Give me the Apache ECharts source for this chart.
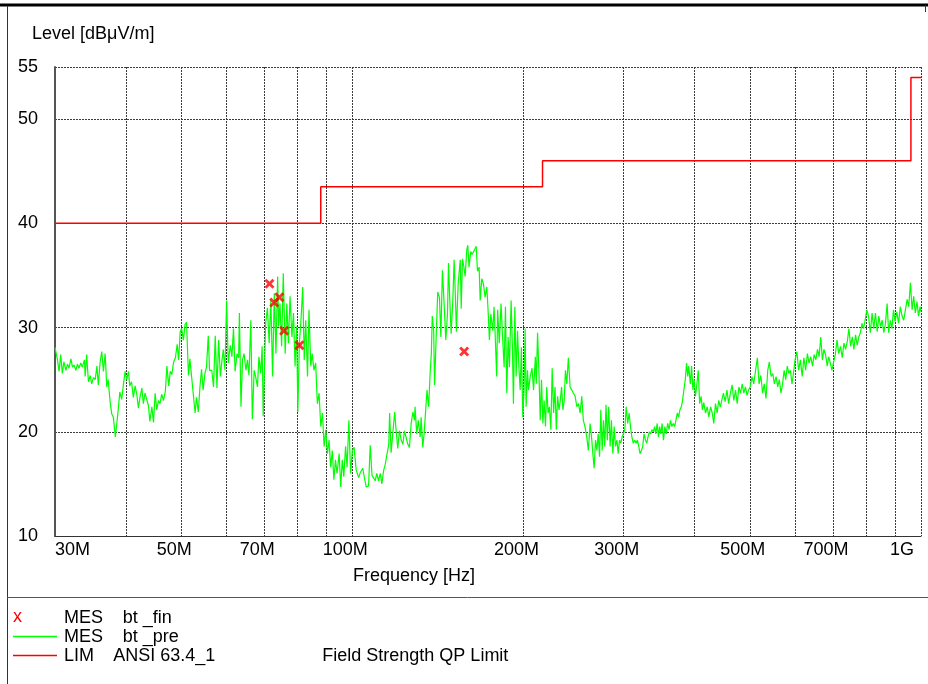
<!DOCTYPE html>
<html><head><meta charset="utf-8">
<script src="https://cdn.jsdelivr.net/npm/echarts@6/dist/echarts.min.js"></script>
<style>html,body{margin:0;padding:0;background:#fff}#c{width:928px;height:684px}</style>
</head><body><div id="c"></div>
<script>
// ---- data (frequency in MHz, level in dBuV/m) ----
const xTicks = [30,40,50,60,70,80,90,100,200,300,400,500,600,700,800,900,1000];
const xLabelValues = [30,50,70,100,200,300,500,700,1000];
const yTicks = [10,20,30,40,50,55];
const limitFreq = [30,88,88,216,216,960,960,1000];
const limitLevel = [40,40,43.5,43.5,46,46,54,54];
const finFreq = [71.5,72.9,74.4,75.85,80.7,157.25];
const finLevel = [34.2,32.4,32.9,29.7,28.3,27.7];
const preScan = [
[30.0,28.1],[30.3,26.9],[30.5,25.8],[30.7,27.4],[30.9,25.6],[31.1,26.7],[31.35,25.9],[31.55,26.5],[31.75,26.1],[32.0,27.0],[32.2,26.2],[32.4,26.4],[32.65,25.9],[32.85,26.5],[33.05,26.1],[33.3,26.6],[33.5,26.2],[33.8,26.9],[33.9,25.3],[34.1,27.4],[34.35,24.8],[34.6,25.4],[34.8,24.6],[35.05,25.2],[35.3,25.0],[35.55,26.3],[35.75,24.5],[36.0,26.6],[36.25,27.7],[36.5,25.8],[36.75,27.5],[37.0,24.3],[37.2,25.0],[37.5,22.9],[37.75,21.7],[38.0,21.4],[38.3,19.5],[38.5,20.6],[38.75,22.1],[39.0,23.8],[39.3,23.1],[39.55,24.4],[39.85,25.8],[40.1,25.0],[40.4,25.8],[40.6,24.4],[40.9,24.8],[41.2,23.3],[41.5,24.4],[41.8,23.5],[42.05,22.3],[42.35,23.4],[42.65,24.2],[42.9,22.7],[43.2,23.7],[43.5,23.1],[43.8,22.5],[44.05,21.0],[44.4,22.4],[44.7,20.9],[45.0,23.7],[45.3,22.1],[45.6,23.0],[45.9,22.7],[46.2,23.6],[46.55,23.0],[46.9,23.9],[47.2,26.3],[47.55,24.4],[47.85,25.8],[48.15,25.5],[48.5,26.7],[48.85,27.1],[49.2,28.4],[49.5,26.9],[49.8,29.6],[50.1,29.9],[50.45,28.8],[50.8,30.3],[51.1,30.5],[51.5,25.4],[51.8,27.0],[52.2,25.1],[52.5,23.7],[52.9,21.8],[53.2,23.3],[53.6,21.9],[53.95,24.3],[54.3,26.0],[54.65,24.0],[55.05,25.6],[55.4,26.2],[55.8,29.2],[56.1,25.9],
[56.6,25.9],[57.0,24.3],[57.4,29.2],[57.8,24.2],[58.2,28.8],[58.6,25.3],[59.0,26.9],[59.3,27.9],[59.7,25.9],[60.1,32.6],[60.5,26.6],[61.0,28.3],[61.4,27.2],[61.8,29.9],[62.2,25.8],[62.7,27.5],[63.1,27.1],[63.3,31.4],[63.7,22.4],[64.1,26.9],[64.5,27.5],[65.0,25.9],[65.4,26.9],[65.8,25.4],[66.3,30.7],[66.7,21.2],[67.2,25.9],[67.6,25.3],[68.1,24.3],[68.5,27.2],[69.0,25.6],[69.4,28.2],[69.7,21.5],[70.4,30.4],[70.9,31.9],[71.4,28.5],[71.9,32.7],[72.4,25.3],[72.9,33.3],[73.4,27.5],[73.9,34.9],[74.2,30.1],[74.6,32.3],[75.1,28.2],[75.6,35.2],[76.2,27.5],[76.7,32.3],[77.2,28.5],[77.7,33.0],[78.3,29.1],[78.8,31.4],[79.3,26.3],[79.8,30.1],[80.2,21.9],[80.7,28.5],[81.3,31.1],[81.8,33.9],[82.3,26.9],[82.8,30.7],[83.4,25.3],[83.9,31.7],[84.5,26.3],[85.0,27.5],[85.6,25.9],[86.2,26.6],[86.8,22.7],[87.4,23.7],[88.0,20.5],[88.6,21.8],[89.2,18.6],[89.8,20.2],[90.4,17.9],[91.0,19.2],[91.6,16.6],[92.2,18.2],[92.8,15.4],[93.4,17.3],[94.0,16.0],[94.8,17.9],[95.4,14.7],[96.0,17.3],[96.6,15.7],[97.3,18.6],[97.9,16.6],[98.6,21.1],[99.3,16.0],[100.0,18.2],
[100.7,18.5],[101.6,16.3],[102.6,15.6],[103.3,16.1],[104.3,16.5],[105.0,15.6],[105.8,14.7],[106.8,14.8],[107.5,18.7],[108.3,15.8],[108.9,15.6],[109.7,15.3],[110.4,16.0],[111.2,15.3],[112.0,16.0],[112.7,15.0],[113.5,16.3],[114.3,16.9],[115.1,17.9],[115.9,18.8],[116.3,21.8],[117.0,18.0],[117.9,20.1],[118.7,21.9],[119.4,20.1],[120.2,18.4],[121.0,20.1],[121.9,19.2],[122.7,18.8],[123.5,20.1],[124.4,20.0],[125.2,18.8],[126.0,18.5],[126.9,20.8],[127.8,21.9],[128.6,21.1],[128.9,22.4],[129.8,19.8],[130.6,21.1],[131.6,19.5],[132.1,21.4],[133.0,18.5],[133.8,20.0],[134.7,22.4],[135.3,24.0],[136.2,22.4],[137.1,25.9],[137.7,27.5],[138.2,31.1],[139.0,29.7],[139.5,24.5],[140.3,28.5],[141.3,33.4],[142.3,32.9],[143.1,29.1],[144.0,35.5],[145.0,32.3],[146.0,28.8],[147.0,31.3],[147.6,36.2],[148.6,31.7],[149.2,29.4],[150.2,32.6],[151.0,36.5],[151.8,32.9],[152.4,29.6],[153.5,34.2],[154.8,36.5],[155.4,31.8],[156.2,36.6],[157.1,35.8],[157.9,34.9],[158.9,37.4],[159.6,37.9],[160.4,35.8],[161.5,37.3],[162.4,37.0],[163.3,37.1],[164.5,37.6],[165.1,37.8],[166.0,35.4],[167.1,35.8],[167.8,32.6],[168.9,34.7],[170.0,34.2],[171.2,32.9],[172.4,33.9],[173.5,31.0],[174.2,28.8],[175.2,31.3],[176.6,29.7],[177.5,32.0],[178.2,29.7],[179.4,25.3],[180.1,31.7],[181.3,28.5],[182.6,32.3],[183.6,29.4],[184.9,26.2],[185.9,32.0],[186.9,23.7],[187.9,29.1],[188.9,26.2],[190.2,32.6],[191.2,28.1],[192.0,22.7],[193.1,32.0],[194.1,25.3],[195.2,29.7],[196.3,26.2],[197.3,24.0],[198.3,28.1],[199.4,21.4],
[200.4,24.0],[201.3,29.9],[202.1,22.4],[203.2,25.9],[204.1,24.0],[205.5,25.3],[207.0,26.1],[208.3,24.0],[209.8,27.2],[210.6,24.6],[211.7,29.5],[212.9,25.6],[214.0,21.1],[215.1,25.0],[216.3,20.8],[217.4,23.0],[218.6,20.5],[219.7,24.3],[220.9,21.8],[222.1,22.4],[223.4,20.2],[224.6,26.1],[225.9,21.8],[227.2,24.3],[228.4,20.2],[229.6,23.4],[230.9,22.1],[232.1,23.0],[233.3,24.3],[234.6,22.1],[235.8,23.0],[237.0,25.9],[238.3,24.6],[239.8,27.1],[241.5,24.3],[243.2,24.0],[244.8,23.7],[246.5,23.4],[248.2,22.4],[249.8,22.7],[251.5,21.8],[253.2,23.4],[254.8,21.1],[256.5,20.5],[258.4,19.5],[260.0,18.2],[261.9,20.8],[263.7,19.2],[264.8,17.9],[266.2,16.5],[267.7,19.2],[269.2,18.2],[270.6,19.8],[272.1,17.6],[273.5,22.1],[275.0,18.2],[276.4,21.1],[277.9,18.6],[279.3,22.6],[280.8,19.2],[282.4,22.4],[284.0,18.6],[285.5,21.1],[287.2,17.9],[288.7,20.5],[290.2,18.6],[291.9,19.2],[293.4,17.9],[295.0,19.2],[296.6,18.9],[298.1,19.5],[299.6,19.8],[301.4,20.2],[303.1,22.4],[304.9,20.8],[306.7,21.8],[308.4,20.5],[310.1,19.5],[312.0,18.9],[313.7,19.2],[315.4,18.9],[317.2,19.2],[318.9,18.6],[320.6,17.9],[322.4,18.2],[324.1,18.6],[325.8,19.8],[327.7,19.2],[329.4,18.9],[331.1,19.5],[333.0,20.0],[334.7,19.8],[336.4,20.2],[338.3,20.0],[340.0,20.5],[341.7,19.8],[343.6,20.8],[345.3,19.5],[347.0,20.5],[348.8,19.8],[350.5,20.8],[352.5,19.2],[354.5,20.5],[356.5,19.8],[358.5,20.8],[360.6,20.2],[362.6,21.1],[364.6,20.5],[366.7,20.8],[368.7,20.5],[370.7,21.1],[372.8,21.8],[374.8,21.4],[376.7,22.1],[378.9,22.4],[380.8,23.0],[382.8,24.0],[385.0,25.0],[387.0,26.6],[388.9,25.3],[390.4,26.3],[393.0,24.6],[395.0,26.3],[397.1,24.0],[399.1,25.0],[401.2,23.4],[403.6,24.6],[405.8,25.9],[408.1,22.7],[410.5,23.4],[412.7,22.1],[415.0,22.8],[417.9,21.8],[420.8,22.4],[423.6,21.4],[426.5,22.4],[429.4,21.8],[432.1,20.8],[435.1,22.7],[438.0,21.8],[440.8,23.0],[443.7,22.4],
[446.6,22.4],[449.3,23.7],[452.5,22.9],[455.8,24.0],[458.9,22.7],[462.2,23.7],[465.4,24.5],[468.6,23.0],[471.9,24.0],[475.1,22.7],[478.3,24.3],[481.5,23.7],[484.8,24.6],[488.0,23.7],[491.2,24.3],[494.4,23.5],[497.5,24.0],[500.7,24.3],[504.4,25.3],[508.0,24.6],[511.8,25.9],[515.5,27.1],[519.1,24.6],[522.8,25.4],[526.6,23.7],[530.1,24.6],[533.9,23.2],[537.6,25.9],[541.2,26.7],[545.0,25.3],[548.7,25.6],[552.3,24.6],[556.1,25.3],[559.8,24.3],[563.4,25.0],[567.2,23.7],[570.9,24.6],[574.5,25.9],[578.2,25.0],[582.0,26.3],[585.5,25.6],[589.3,25.9],[593.1,24.6],[596.6,25.6],[600.5,26.9],[605.0,27.7],[609.2,25.9],[613.6,26.9],[618.1,25.3],[622.3,27.1],[626.8,25.9],[631.3,27.5],[635.5,26.6],[640.0,27.2],[644.5,26.3],[648.7,27.4],[653.2,26.9],[657.6,27.9],[661.9,27.2],[666.3,29.1],[670.8,26.9],[675.0,27.9],[679.5,27.4],[684.0,26.3],[688.2,27.2],[692.6,26.6],[697.1,25.9],[701.5,26.6],[706.7,27.4],[711.8,28.8],[716.7,27.5],[721.8,28.2],[727.0,27.1],[731.8,28.5],[736.9,27.9],[742.1,28.7],[746.9,29.9],[752.0,28.2],[757.2,29.1],[762.0,27.9],[767.2,29.3],[772.3,28.3],[777.2,29.1],[782.3,29.5],[787.5,30.4],[792.3,29.9],[797.5,30.7],[803.1,31.7],[808.6,31.1],[814.4,29.5],[820.3,31.4],[825.8,29.9],[831.6,31.4],[837.5,29.6],[843.0,31.1],[848.8,30.1],[854.7,30.7],[860.2,29.5],[866.0,30.4],[871.8,32.3],[877.3,29.5],[883.2,30.7],[889.0,29.9],[894.5,31.7],[900.4,30.6],[906.9,31.5],[913.1,30.4],[919.6,32.0],[926.2,31.1],[932.3,30.7],[938.8,31.7],[945.4,32.7],[951.5,32.0],[958.1,34.3],[964.6,31.7],[970.8,33.0],[977.3,31.4],[983.8,32.5],[990.0,31.1],[996.5,32.0],[1000,31.5]
];

// ---- chart ----
const FONT = '"Liberation Sans", Arial, sans-serif';
const FS = 18;
const chart = echarts.init(document.getElementById('c'), null, {renderer: 'canvas', width: 928, height: 684});
const gridLine = {show: true, lineStyle: {color: '#3a3a3a', width: 1, type: [2, 1]}};
const xMarker = 'path://M0,2L2,0L5,3L8,0L10,2L7,5L10,8L8,10L5,7L2,10L0,8L3,5Z';
function txt(x, y, s, color) {
  return {type: 'text', x: x, y: y, silent: true,
    style: {text: s, fill: color || '#000', font: FS + 'px ' + FONT,
      align: 'left', verticalAlign: 'middle', textAlign: 'left', textVerticalAlign: 'middle'}};
}
const tokenBase = {fontSize: FS, fontFamily: FONT, color: '#000'};
chart.setOption({
  animation: false,
  backgroundColor: '#fff',
  grid: {left: 55, top: 67, width: 866, height: 469, containLabel: false},
  xAxis: {
    type: 'log', logBase: 10, min: 30, max: 1000,
    axisLine: {show: true, onZero: false, lineStyle: {color: '#333', width: 1}},
    axisTick: {show: false, customValues: xTicks},
    minorTick: {show: false}, minorSplitLine: {show: false},
    splitLine: gridLine,
    axisLabel: {
      customValues: xLabelValues, margin: 5, color: '#000', fontFamily: FONT, fontSize: FS,
      formatter: function (v) {
        if (v <= 30) return '{a|30M}';
        if (v >= 1000) return '{g|1G}';
        return '{m|' + Math.round(v) + 'M}';
      },
      rich: {
        a: Object.assign({padding: [0, 0, 0, 35]}, tokenBase),
        m: Object.assign({padding: [0, 14, 0, 0]}, tokenBase),
        g: Object.assign({padding: [0, 38, 0, 0]}, tokenBase)
      }
    }
  },
  yAxis: {
    type: 'value', min: 10, max: 55,
    axisLine: {show: true, onZero: false, lineStyle: {color: '#555', width: 2}},
    axisTick: {show: false, customValues: yTicks},
    splitLine: gridLine,
    axisLabel: {customValues: yTicks, margin: 17, color: '#000', fontFamily: FONT, fontSize: FS, padding: [4, 0, 0, 0]}
  },
  series: [
    {type: 'line', name: 'MES bt _pre', data: preScan, symbol: 'none', showSymbol: false,
      lineStyle: {color: '#00ff00', width: 1.2}, z: 3, silent: true},
    {type: 'line', name: 'LIM ANSI 63.4_1', data: limitFreq.map((f, i) => [f, limitLevel[i]]),
      symbol: 'none', showSymbol: false, lineStyle: {color: '#ff0000', width: 1.5}, z: 4, silent: true},
    {type: 'scatter', name: 'MES bt _fin', data: finFreq.map((f, i) => [f, finLevel[i]]),
      symbol: xMarker, symbolSize: 10, itemStyle: {color: '#ff0000'}, z: 5, silent: true}
  ],
  graphic: [
    {type: 'rect', silent: true, shape: {x: 0, y: 3.5, width: 928, height: 3}, style: {fill: '#000'}},
    {type: 'line', silent: true, shape: {x1: 925.5, y1: 5, x2: 925.5, y2: 12}, style: {stroke: '#333', lineWidth: 1}},
    {type: 'line', silent: true, shape: {x1: 7.5, y1: 6, x2: 7.5, y2: 684}, style: {stroke: '#333', lineWidth: 1}},
    {type: 'line', silent: true, shape: {x1: 7, y1: 597.5, x2: 928, y2: 597.5}, style: {stroke: '#555', lineWidth: 1}},
    txt(32, 34.5, 'Level [dBμV/m]'),
    txt(353, 576.5, 'Frequency [Hz]'),
    txt(13, 617, 'x', '#ff0000'),
    txt(64, 618, 'MES'), txt(122.7, 618, 'bt _fin'),
    {type: 'line', silent: true, shape: {x1: 13, y1: 636.5, x2: 57, y2: 636.5}, style: {stroke: '#00ff00', lineWidth: 1.5}},
    txt(64, 637.5, 'MES'), txt(122.7, 637.5, 'bt _pre'),
    {type: 'line', silent: true, shape: {x1: 13, y1: 655.5, x2: 57, y2: 655.5}, style: {stroke: '#ff0000', lineWidth: 1.5}},
    txt(64, 656.5, 'LIM'), txt(113.3, 656.5, 'ANSI 63.4_1'),
    txt(322.3, 656.5, 'Field Strength QP Limit')
  ]
});
</script>
</body></html>
